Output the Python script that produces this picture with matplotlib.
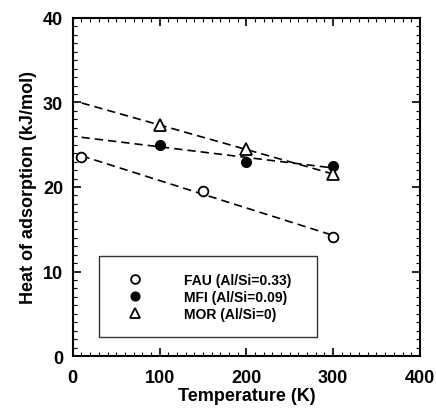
import numpy as np
import matplotlib
matplotlib.use("Agg")
import matplotlib.pyplot as plt
from matplotlib.ticker import MultipleLocator

# dane
T_fau = [10, 150, 300]
H_fau = [23.5, 19.5, 14.1]
T_mfi = [100, 200, 300]
H_mfi = [25.0, 23.0, 22.5]
T_mor = [100, 200, 300]
H_mor = [27.3, 24.5, 21.5]
labels = ["FAU (Al/Si=0.33)", "MFI (Al/Si=0.09)", "MOR (Al/Si=0)"]
fit_range = [10, 300]

plt.rcParams['font.family'] = ['Liberation Sans', 'DejaVu Sans']
plt.rcParams['font.weight'] = 'bold'

fig = plt.figure(figsize=(4.36, 4.10), dpi=100)
ax = fig.add_axes([0.167, 0.129, 0.796, 0.825])

xs = np.array(fit_range)
for T, H in [(T_fau, H_fau), (T_mfi, H_mfi), (T_mor, H_mor)]:
    a, b = np.polyfit(T, H, 1)
    ax.plot(xs, a * xs + b, color="black", linestyle=(0, (5, 3)), linewidth=1.2)

h1, = ax.plot(T_fau, H_fau, "o", mfc="white", mec="black", mew=1.3, ms=7, label=labels[0])
h2, = ax.plot(T_mfi, H_mfi, "o", mfc="black", mec="black", ms=7, label=labels[1])
h3, = ax.plot(T_mor, H_mor, "^", mfc="white", mec="black", mew=1.3, ms=8, label=labels[2])

ax.set_xlim(0, 400)
ax.set_ylim(0, 40)
ax.xaxis.set_major_locator(MultipleLocator(100))
ax.xaxis.set_minor_locator(MultipleLocator(10))
ax.yaxis.set_major_locator(MultipleLocator(10))
ax.yaxis.set_minor_locator(MultipleLocator(1))
ax.tick_params(which="both", direction="in", top=True, right=True, labelsize=13)
ax.tick_params(axis="x", which="major", pad=9)
ax.tick_params(axis="y", which="major", pad=7)
ax.tick_params(which="major", length=6, width=1.2)
ax.tick_params(which="minor", length=3, width=0.8)
for s in ax.spines.values():
    s.set_linewidth(1.5)

ax.set_xlabel("Temperature (K)", fontsize=13, fontweight="bold", labelpad=1)
ax.set_ylabel("Heat of adsorption (kJ/mol)", fontsize=13, fontweight="bold", labelpad=4)

leg = ax.legend(handles=[h1, h2, h3], loc="lower left", bbox_to_anchor=(0.075, 0.056, 0.628, 0.249),
                mode="expand", fancybox=False, edgecolor="black", fontsize=10,
                borderpad=1.2, handletextpad=2.1, labelspacing=0.2, borderaxespad=0,
                handlelength=2.8, markerscale=0.9)
leg.get_frame().set_linewidth(1.0)

plt.savefig("out.png", dpi=100)
